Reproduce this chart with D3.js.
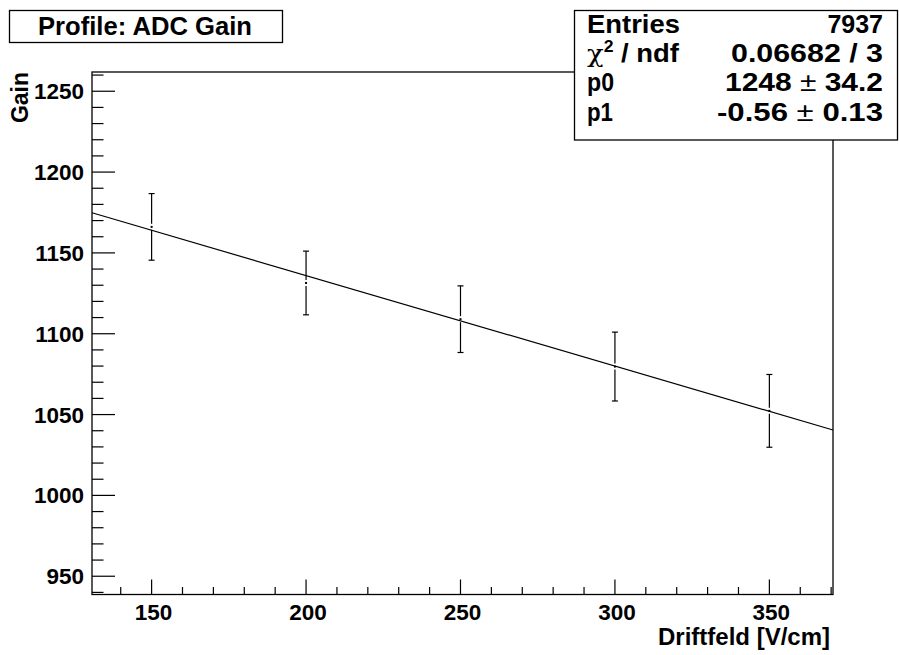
<!DOCTYPE html>
<html><head><meta charset="utf-8">
<script src="https://cdn.jsdelivr.net/npm/d3@7"></script>
<style>body{margin:0;background:#fff}svg{display:block}text{font-family:"Liberation Sans",Arial,sans-serif;font-weight:bold;fill:#000}</style>
</head><body>
<script>
// data
const xValues = [150, 200, 250, 300, 350];
const gainMeans = [1166.1, 1131.4, 1109.0, 1079.7, 1052.3];
const gainErrors = [20.6, 19.7, 20.6, 21.3, 22.5];
const xTicks = [150, 200, 250, 300, 350];
const yTicks = [950, 1000, 1050, 1100, 1150, 1200, 1250];
const fitParams = {p0: 1248, p1: -0.56};
const statsLabels = ["Entries", "chi2", "p0", "p1"];
const statsValues = ["7937", "0.06682 / 3", "1248 ± 34.2", "-0.56 ± 0.13"];
const xDomain = [130.7, 370.6];
const yDomain = [938.7, 1261.9];

const W = 899, H = 655;
const svg = d3.select("body").append("svg").attr("width", W).attr("height", H);
const L = 92, R = 833, T = 72, B = 594.5;
const x = d3.scaleLinear().domain(xDomain).range([L, R]);
const y = d3.scaleLinear().domain(yDomain).range([B, T]);

// frame
svg.append("rect").attr("x", L).attr("y", T).attr("width", R - L).attr("height", B - T)
  .attr("fill", "none").attr("stroke", "#000").attr("stroke-width", 1.3);

// x ticks
const xMinor = d3.range(140, 371, 10);
svg.append("g").selectAll("line").data(xMinor).join("line")
  .attr("x1", d => x(d)).attr("x2", d => x(d))
  .attr("y1", B).attr("y2", d => B - (d % 50 === 0 ? 15 : 7.5))
  .attr("stroke", "#000").attr("stroke-width", 1.2);
svg.append("g").selectAll("text").data(xTicks).join("text")
  .attr("x", d => x(d) + 2).attr("y", 620).attr("text-anchor", "middle")
  .style("font-size", "22.5px").text(d => d);

// y ticks
const yMinor = d3.range(940, 1261, 10);
svg.append("g").selectAll("line").data(yMinor).join("line")
  .attr("y1", d => y(d)).attr("y2", d => y(d))
  .attr("x1", L).attr("x2", d => L + (d % 50 === 0 ? 23 : 11.5))
  .attr("stroke", "#000").attr("stroke-width", 1.2);
svg.append("g").selectAll("text").data(yTicks).join("text")
  .attr("x", 84).attr("y", d => y(d) + 8).attr("text-anchor", "end")
  .style("font-size", "22.5px").text(d => d);

// axis titles
svg.append("text").attr("x", 830).attr("y", 645).attr("text-anchor", "end")
  .attr("textLength", 172).attr("lengthAdjust", "spacingAndGlyphs")
  .style("font-size", "24px").text("Driftfeld [V/cm]");
svg.append("text").attr("transform", `translate(28,${T}) rotate(-90)`).attr("text-anchor", "end")
  .attr("textLength", 51).attr("lengthAdjust", "spacingAndGlyphs")
  .style("font-size", "23px").text("Gain");

// fit line
const fitLine = d3.line().x(d => x(d)).y(d => y(fitParams.p0 + fitParams.p1 * d));
svg.append("path").datum(xDomain).attr("d", fitLine)
  .attr("fill", "none").attr("stroke", "#000").attr("stroke-width", 1.2);

// error bars
const pts = xValues.map((v, i) => ({x: v, m: gainMeans[i], e: gainErrors[i]}));
const g = svg.append("g").attr("stroke", "#000").attr("stroke-width", 1.2);
pts.forEach(p => {
  const cx = x(p.x), cy = y(p.m), top = y(p.m + p.e), bot = y(p.m - p.e);
  g.append("line").attr("x1", cx).attr("x2", cx).attr("y1", top).attr("y2", cy - 3);
  g.append("line").attr("x1", cx).attr("x2", cx).attr("y1", cy + 3).attr("y2", bot);
  g.append("line").attr("x1", cx - 3).attr("x2", cx + 3).attr("y1", top).attr("y2", top);
  g.append("line").attr("x1", cx - 3).attr("x2", cx + 3).attr("y1", bot).attr("y2", bot);
  svg.append("rect").attr("x", cx - 1).attr("y", cy - 1).attr("width", 2).attr("height", 2).attr("fill", "#000");
});

// title box
svg.append("rect").attr("x", 9.5).attr("y", 10.5).attr("width", 273).attr("height", 32)
  .attr("fill", "#fff").attr("stroke", "#000").attr("stroke-width", 1.3);
svg.append("text").attr("x", 38).attr("y", 35)
  .attr("textLength", 214).attr("lengthAdjust", "spacingAndGlyphs")
  .style("font-size", "25px").text("Profile: ADC Gain");

// stats box
const sx = 574.5, sy = 10.5, sw = 323, sh = 129.5;
svg.append("rect").attr("x", sx).attr("y", sy).attr("width", sw).attr("height", sh)
  .attr("fill", "#fff").attr("stroke", "#000").attr("stroke-width", 1.3);
const labelWidths = [93, 92, 27, 26];
const valueWidths = [null, 152, 158, 166];
statsLabels.forEach((lab, i) => {
  const by = 33 + 29.2 * i;
  const t = svg.append("text").attr("x", 587).attr("y", by).style("font-size", "25px")
    .attr("textLength", labelWidths[i]).attr("lengthAdjust", "spacingAndGlyphs");
  if (lab === "chi2") {
    t.append("tspan").style("font-weight", "normal").style("font-family", "'DejaVu Serif',serif").text("χ");
    t.append("tspan").attr("dy", -10).style("font-size", "16px").text("2");
    t.append("tspan").attr("dy", 10).text(" / ndf");
  } else t.text(lab);
  const v = svg.append("text").attr("x", 883).attr("y", by).attr("text-anchor", "end").style("font-size", "25px");
  if (valueWidths[i]) v.attr("textLength", valueWidths[i]).attr("lengthAdjust", "spacingAndGlyphs");
  const parts = statsValues[i].split("±");
  if (parts.length === 2) {
    v.append("tspan").text(parts[0]);
    v.append("tspan").style("font-weight", "normal").text("±");
    v.append("tspan").text(parts[1]);
  } else v.text(statsValues[i]);
});
</script>
</body></html>
